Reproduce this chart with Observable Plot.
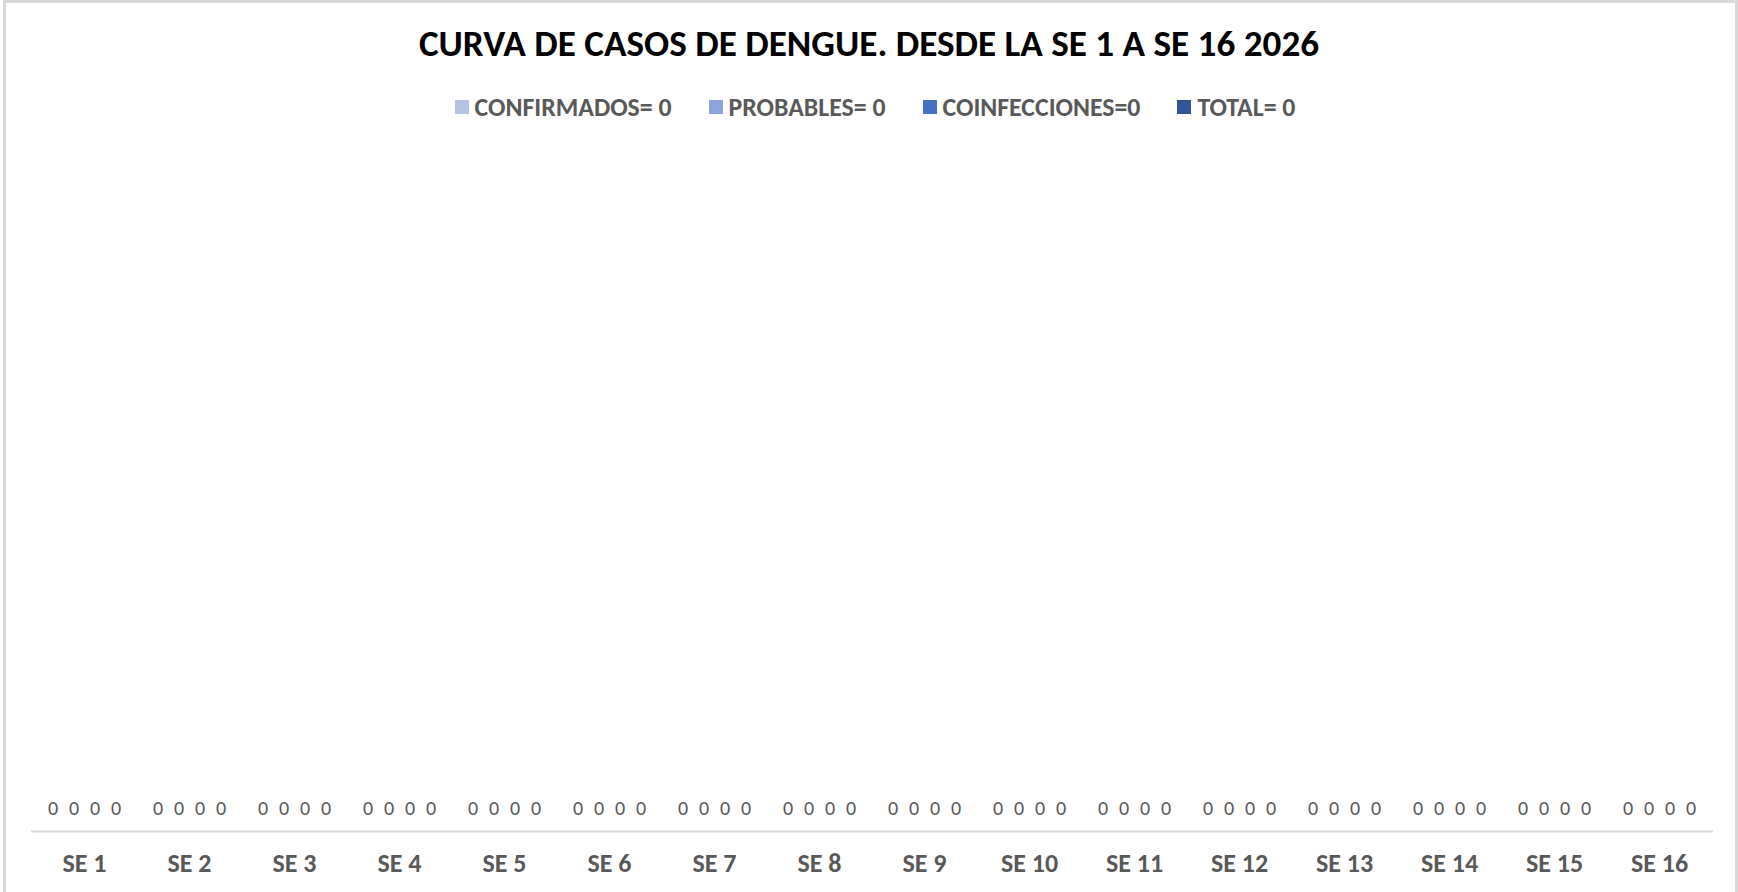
<!DOCTYPE html>
<html>
<head>
<meta charset="utf-8">
<script src="https://cdn.jsdelivr.net/npm/d3@7"></script>
<script src="https://cdn.jsdelivr.net/npm/@observablehq/plot@0.6"></script>
<style>
  html, body { margin: 0; padding: 0; background: #fff; }
  body { width: 1738px; height: 892px; overflow: hidden; position: relative; font-family: Carlito, Calibri, Lato, "Open Sans", sans-serif; }
  #frame { position: absolute; left: 3px; top: 0; width: 1735px; height: 910px; border: 3px solid #d9d9d9; box-sizing: border-box; }
  #title { position: absolute; left: 0; top: 25px; width: 1738px; text-align: center; font-size: 37.2px; line-height: 37px; font-weight: bold; color: #000; white-space: nowrap; }
  #legend { position: absolute; left: 6px; top: 94px; width: 1738px; display: flex; justify-content: center; gap: 37px; font-size: 25.8px; line-height: 26px; font-weight: bold; color: #595959; white-space: nowrap; }
  .item { display: flex; align-items: center; gap: 6px; }
  .sw { width: 14px; height: 14px; display: inline-block; }
  #chart { position: absolute; left: 0; top: 130px; }
</style>
</head>
<body>
<div id="frame"></div>
<div id="title"></div>
<div id="legend"></div>
<div id="chart"></div>
<script>
const titleText = "CURVA DE CASOS DE DENGUE. DESDE LA SE 1 A SE 16 2026";
const weeks = ["SE 1","SE 2","SE 3","SE 4","SE 5","SE 6","SE 7","SE 8","SE 9","SE 10","SE 11","SE 12","SE 13","SE 14","SE 15","SE 16"];
const series = ["CONFIRMADOS","PROBABLES","COINFECCIONES","TOTAL"];
const legendLabels = ["CONFIRMADOS= 0","PROBABLES= 0","COINFECCIONES=0","TOTAL= 0"];
const colors = ["#b4c2e3","#8da3dc","#4472c4","#2f5597"];
const confirmados   = [0,0,0,0,0,0,0,0,0,0,0,0,0,0,0,0];
const probables     = [0,0,0,0,0,0,0,0,0,0,0,0,0,0,0,0];
const coinfecciones = [0,0,0,0,0,0,0,0,0,0,0,0,0,0,0,0];
const total         = [0,0,0,0,0,0,0,0,0,0,0,0,0,0,0,0];

const valuesBySeries = [confirmados, probables, coinfecciones, total];
const rows = weeks.flatMap((w, i) => series.map((s, j) => ({week: w, serie: s, value: valuesBySeries[j][i]})));

document.getElementById("title").textContent = titleText;
const legend = document.getElementById("legend");
series.forEach((s, j) => {
  const it = document.createElement("div");
  it.className = "item";
  const sw = document.createElement("span");
  sw.className = "sw";
  sw.style.background = colors[j];
  const tx = document.createElement("span");
  tx.textContent = legendLabels[j];
  it.appendChild(sw); it.appendChild(tx);
  legend.appendChild(it);
});

const chart = Plot.plot({
  width: 1738,
  height: 762,
  marginLeft: 30,
  marginRight: 26,
  marginTop: 0,
  marginBottom: 61,
  fx: {domain: weeks, paddingInner: 0.2, paddingOuter: 0.1, label: null},
  x: {domain: series, padding: 0, axis: null},
  y: {domain: [0, 1], axis: null},
  color: {domain: series, range: colors},
  style: {fontFamily: "Carlito, Calibri, Lato, 'Open Sans', sans-serif", color: "#595959", background: "none", overflow: "visible"},
  marks: [
    Plot.frame({anchor: "bottom", facet: "super", stroke: "#d9d9d9", strokeWidth: 2, insetLeft: -10.5, insetRight: -10.5}),
    Plot.barY(rows, {fx: "week", x: "serie", y: "value", fill: "serie"}),
    Plot.text(rows, {fx: "week", x: "serie", y: "value", text: d => String(d.value), dy: -17, lineAnchor: "bottom", fontSize: 20, fill: "#595959"}),
    Plot.axisFx({anchor: "bottom", tickSize: 0, tickPadding: 22, fontSize: 26, fontWeight: "bold", label: null, fill: "#595959"})
  ]
});
document.getElementById("chart").appendChild(chart);
</script>
</body>
</html>
